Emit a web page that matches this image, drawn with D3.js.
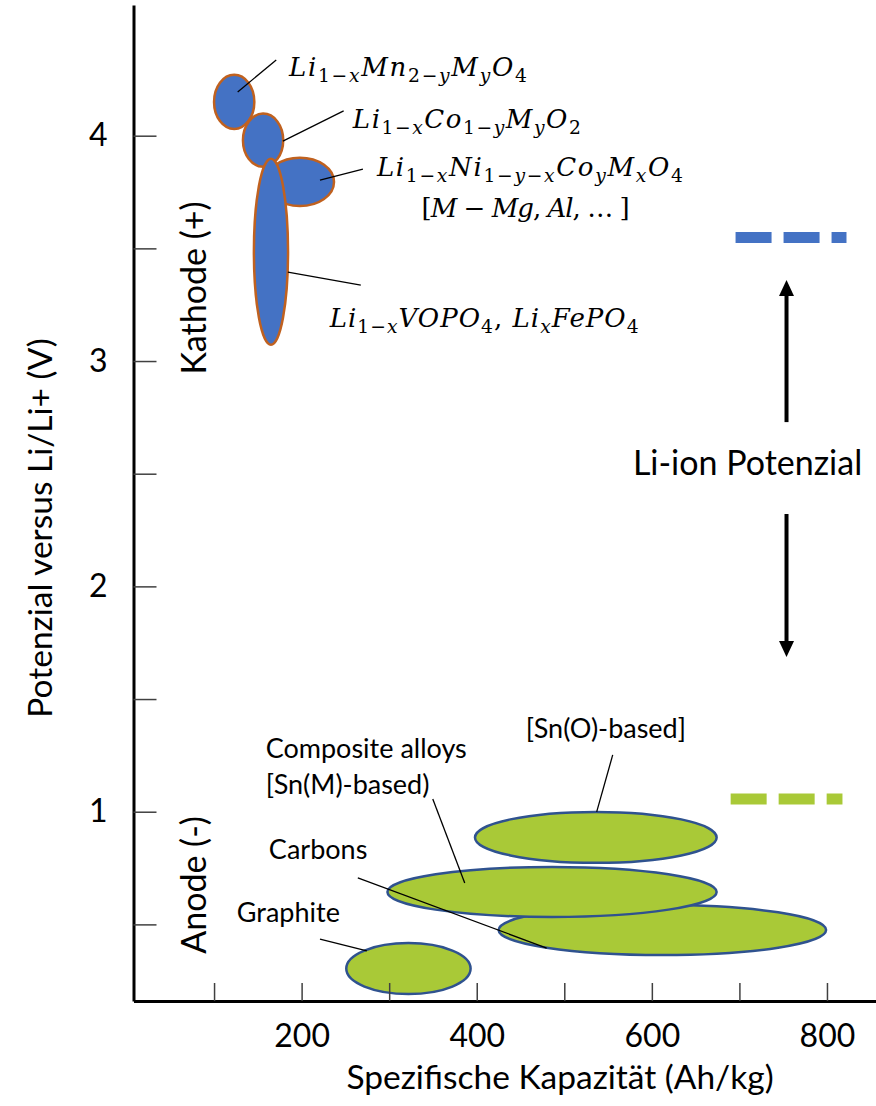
<!DOCTYPE html>
<html>
<head>
<meta charset="utf-8">
<script src="https://cdn.jsdelivr.net/npm/d3@7"></script>
<style>
  body { margin: 0; background: #fff; }
  svg text { font-family: Lato, "Open Sans", sans-serif; fill: #000; }
  .math { font-family: "DejaVu Serif", serif; }
</style>
</head>
<body>
<div id="chart"></div>
<script>
// ticks
const xTicks = [100, 200, 300, 400, 500, 600, 700, 800];
const xTickLabels = [200, 400, 600, 800];
const yTicks = [0.5, 1, 1.5, 2, 2.5, 3, 3.5, 4];
const yTickLabels = [1, 2, 3, 4];

// cathode regions: capacity (Ah/kg) +- dCap, potential (V) +- dV
const cathodes = [
    { cap: 123, dCap: 23, v: 4.15, dV: 0.12 },
    { cap: 156, dCap: 23, v: 3.98, dV: 0.118 },
    { cap: 198, dCap: 39, v: 3.795, dV: 0.107 },
    { cap: 165, dCap: 19.5, v: 3.485, dV: 0.413 }
];
const cathodeLabels = [
    "Li_{1−x}Mn_{2−y}M_{y}O_{4}",
    "Li_{1−x}Co_{1−y}M_{y}O_{2}",
    "Li_{1−x}Ni_{1−y−x}Co_{y}M_{x}O_{4}",
    "[M − Mg, Al, … ]",
    "Li_{1−x}VOPO_{4}, Li_{x}FePO_{4}"
];
const cathodeLabelAt = [[185.5, 4.265], [258.5, 4.034], [286, 3.821], [337, 3.639], [232, 3.151]];
const cathodeLabelWidth = [238, 228, 306, 208, 309];
const cathodeLeaders = [
    [[127, 4.194], [171, 4.336]],
    [[178.6, 3.976], [248, 4.11]],
    [[221, 3.803], [270, 3.852]],
    [[184.3, 3.395], [267.6, 3.337]]
];

// anode regions (drawing order)
const anodes = [
    { cap: 612, dCap: 187, v: 0.475, dV: 0.111 },  // carbons
    { cap: 486, dCap: 188, v: 0.644, dV: 0.111 },  // composite alloys
    { cap: 536, dCap: 138, v: 0.886, dV: 0.113 },  // Sn(O)
    { cap: 322, dCap: 71, v: 0.304, dV: 0.113 }    // graphite
];
const anodeLabels = ["[Sn(O)-based]", "Composite alloys", "[Sn(M)-based)", "Carbons", "Graphite"];
const anodeLabelAt = [[456, 1.327], [159, 1.238], [159, 1.079], [162.6, 0.79], [126, 0.511]];
const anodeLeaders = [
    [[537, 0.999], [555.3, 1.252]],
    [[349.8, 1.056], [386.3, 0.684]],
    [[264.2, 0.706], [479.9, 0.395]],
    [[221, 0.435], [274.5, 0.382]]
];

// Li-ion potential markers on the right
const cathodeLevel = { v: 3.548, from: 695.6, to: 822.3 };
const anodeLevel = { v: 1.056, from: 690, to: 817.7 };
const arrowCap = 753.8;
const arrowUp = [2.729, 3.364];
const arrowDown = [2.321, 1.682];

const width = 876, height = 1106;
const margin = { top: 5, right: 0, bottom: 105, left: 133.5 };

const svg = d3.select("#chart").append("svg")
    .attr("width", width)
    .attr("height", height);

const x = d3.scaleLinear().domain([8, 856]).range([margin.left, width - margin.right]);
const y = d3.scaleLinear().domain([0.16, 4.58]).range([height - margin.bottom, margin.top]);

svg.append("defs").append("marker")
    .attr("id", "head")
    .attr("viewBox", "0 0 16 16")
    .attr("refX", 1).attr("refY", 8)
    .attr("markerWidth", 16).attr("markerHeight", 16)
    .attr("markerUnits", "userSpaceOnUse")
    .attr("orient", "auto")
    .append("path")
    .attr("d", "M0,0.5L16,8L0,15.5Z")
    .attr("fill", "#000");

// anode ellipses
svg.append("g").selectAll("ellipse")
    .data(anodes)
    .enter().append("ellipse")
    .attr("cx", d => x(d.cap))
    .attr("cy", d => y(d.v))
    .attr("rx", d => x(d.cap + d.dCap) - x(d.cap))
    .attr("ry", d => y(d.v - d.dV) - y(d.v))
    .attr("fill", "#a9c937")
    .attr("stroke", "#2f528f")
    .attr("stroke-width", 2.5);

// cathode ellipses
svg.append("g").selectAll("ellipse")
    .data(cathodes)
    .enter().append("ellipse")
    .attr("cx", d => x(d.cap))
    .attr("cy", d => y(d.v))
    .attr("rx", d => x(d.cap + d.dCap) - x(d.cap))
    .attr("ry", d => y(d.v - d.dV) - y(d.v))
    .attr("fill", "#4472c4")
    .attr("stroke", "#c0611f")
    .attr("stroke-width", 2.5);

// leader lines
svg.append("g").selectAll("line")
    .data(cathodeLeaders.concat(anodeLeaders))
    .enter().append("line")
    .attr("x1", d => x(d[0][0])).attr("y1", d => y(d[0][1]))
    .attr("x2", d => x(d[1][0])).attr("y2", d => y(d[1][1]))
    .attr("stroke", "#000")
    .attr("stroke-width", 1.3);

// math labels with subscripts
function mathText(sel, str) {
    const parts = str.split(/(_\{[^}]*\})/).filter(s => s.length);
    let shifted = false;
    parts.forEach(p => {
        const sub = p.startsWith("_{");
        const txt = sub ? p.slice(2, -1) : p;
        // letters italic, digits and operators upright
        const runs = txt.match(/[A-Za-z]+|[^A-Za-z]+/g);
        runs.forEach((r, i) => {
            const t = sel.append("tspan")
                .attr("font-size", sub ? "0.72em" : null)
                .attr("font-style", /[A-Za-z]/.test(r) ? "italic" : "normal")
                .text(r);
            if (i === 0) {
                if (sub && !shifted) { t.attr("dy", 6); shifted = true; }
                if (!sub && shifted) { t.attr("dy", -6); shifted = false; }
            }
        });
    });
}

svg.append("g").selectAll("text")
    .data(cathodeLabels)
    .enter().append("text")
    .attr("class", "math")
    .attr("x", (d, i) => x(cathodeLabelAt[i][0]))
    .attr("y", (d, i) => y(cathodeLabelAt[i][1]))
    .attr("font-size", 26)
    .attr("textLength", (d, i) => cathodeLabelWidth[i])
    .attr("lengthAdjust", "spacing")
    .each(function (d) { mathText(d3.select(this), d); });

svg.append("g").selectAll("text")
    .data(anodeLabels)
    .enter().append("text")
    .attr("x", (d, i) => x(anodeLabelAt[i][0]))
    .attr("y", (d, i) => y(anodeLabelAt[i][1]))
    .attr("font-size", 27)
    .text(d => d);

// right-hand markers
svg.append("g").selectAll("line")
    .data([{ lvl: cathodeLevel, c: "#4472c4" }, { lvl: anodeLevel, c: "#a9c937" }])
    .enter().append("line")
    .attr("x1", d => x(d.lvl.from)).attr("x2", d => x(d.lvl.to))
    .attr("y1", d => y(d.lvl.v)).attr("y2", d => y(d.lvl.v))
    .attr("stroke", d => d.c)
    .attr("stroke-width", 11)
    .attr("stroke-dasharray", "36,12");

svg.append("g").selectAll("line")
    .data([arrowUp, arrowDown])
    .enter().append("line")
    .attr("x1", x(arrowCap)).attr("x2", x(arrowCap))
    .attr("y1", d => y(d[0]))
    .attr("y2", d => y(d[1]) + (d[1] > d[0] ? 16 : -16))
    .attr("stroke", "#000")
    .attr("stroke-width", 4)
    .attr("marker-end", "url(#head)");

svg.append("text")
    .attr("x", x(709.3))
    .attr("y", y(2.494))
    .attr("text-anchor", "middle")
    .attr("font-size", 34)
    .text("Li-ion Potenzial");

// axes
const xAxis = svg.append("g")
    .attr("transform", `translate(0,${height - margin.bottom})`)
    .call(d3.axisBottom(x)
        .tickValues(xTicks)
        .tickSizeInner(-18)
        .tickSizeOuter(0)
        .tickPadding(23)
        .tickFormat(d => xTickLabels.includes(d) ? d : ""));

const yAxis = svg.append("g")
    .attr("transform", `translate(${margin.left},0)`)
    .call(d3.axisLeft(y)
        .tickValues(yTicks)
        .tickSizeInner(-23)
        .tickSizeOuter(0)
        .tickPadding(26)
        .tickFormat(d => yTickLabels.includes(d) ? d : ""));

[xAxis, yAxis].forEach(a => {
    a.select(".domain").attr("stroke", "#000").attr("stroke-width", 3);
    a.selectAll(".tick line").attr("stroke", "#404040").attr("stroke-width", 1.5);
    a.selectAll(".tick text")
        .attr("font-family", "Lato, 'Open Sans', sans-serif")
        .attr("font-size", 32)
        .attr("fill", "#000");
});

svg.append("text")
    .attr("x", 560)
    .attr("y", 1089)
    .attr("text-anchor", "middle")
    .attr("font-size", 33.5)
    .text("Spezifische Kapazität (Ah/kg)");

svg.append("text")
    .attr("transform", "translate(52,528) rotate(-90)")
    .attr("text-anchor", "middle")
    .attr("font-size", 33.5)
    .text("Potenzial versus Li/Li+ (V)");

svg.append("text")
    .attr("transform", `translate(206,${y(3.324)}) rotate(-90)`)
    .attr("text-anchor", "middle")
    .attr("font-size", 34)
    .text("Kathode (+)");

svg.append("text")
    .attr("transform", `translate(206,${y(0.675)}) rotate(-90)`)
    .attr("text-anchor", "middle")
    .attr("font-size", 34)
    .text("Anode (-)");
</script>
</body>
</html>
